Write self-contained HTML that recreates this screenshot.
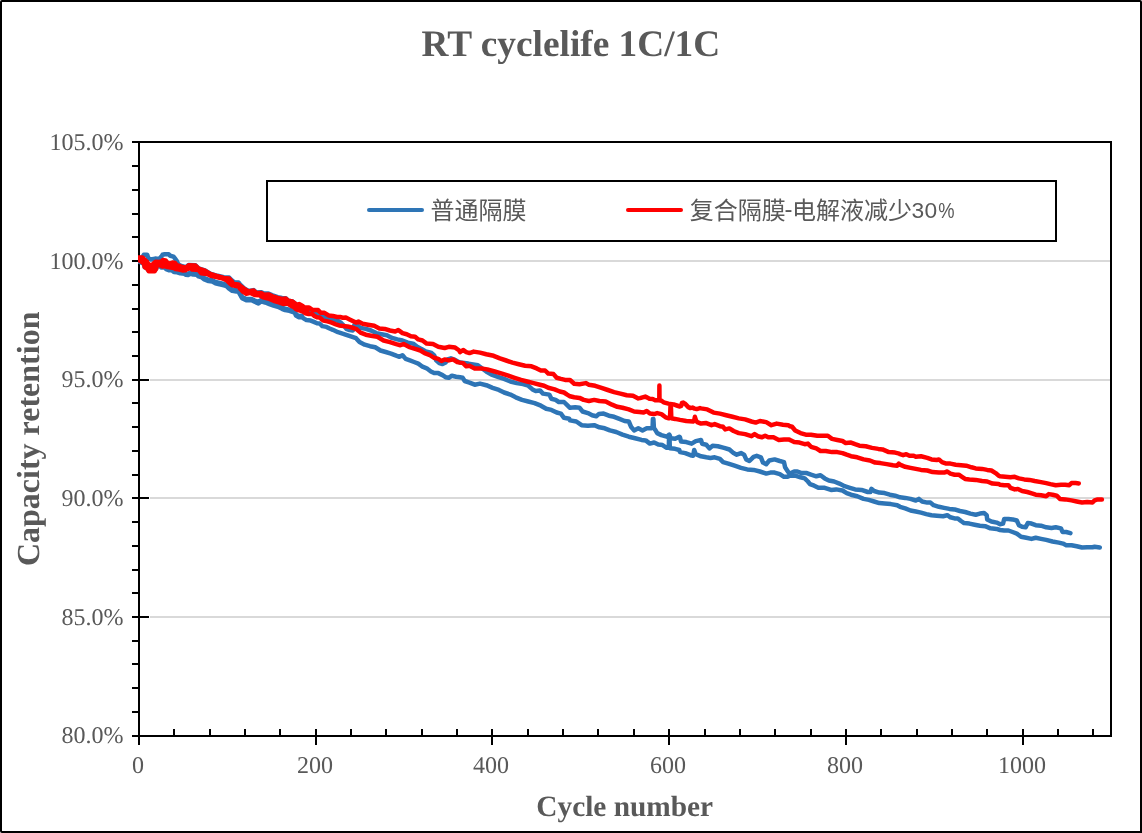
<!DOCTYPE html>
<html lang="zh"><head><meta charset="utf-8"><title>RT cyclelife 1C/1C</title>
<style>
html,body{margin:0;padding:0;background:#fff;}
body{width:1142px;height:833px;overflow:hidden;position:relative;}
#chart{position:absolute;left:0;top:0;width:1142px;height:833px;box-sizing:border-box;border:2px solid #000;border-radius:2px 2px 0 2px;background:#fff;}
svg{position:absolute;left:0;top:0;display:block;}
.serif{font-family:"Liberation Serif","Noto Serif CJK SC",serif;fill:#595959;text-rendering:geometricPrecision;}
.sans{font-family:"Liberation Sans","Noto Sans CJK SC",sans-serif;fill:#595959;}
.tick{font-size:24px;text-rendering:geometricPrecision;}
.b{font-weight:bold;}
</style></head><body>
<div id="chart"></div>
<svg width="1142" height="833" viewBox="0 0 1142 833">

<g fill="#d9d9d9">
<rect x="150" y="616" width="960" height="2"/>
<rect x="150" y="497" width="960" height="2"/>
<rect x="150" y="379" width="960" height="2"/>
<rect x="150" y="260" width="960" height="2"/>
</g>
<g fill="#000">
<rect x="132" y="141" width="980" height="2"/>
<rect x="138" y="141" width="2" height="604"/>
<rect x="1110" y="141" width="2" height="596"/>
<rect x="132" y="735" width="980" height="2"/>
<rect x="132" y="711" width="6" height="2"/>
<rect x="132" y="687" width="6" height="2"/>
<rect x="132" y="663" width="6" height="2"/>
<rect x="132" y="640" width="6" height="2"/>
<rect x="132" y="616" width="17" height="2"/>
<rect x="132" y="592" width="6" height="2"/>
<rect x="132" y="569" width="6" height="2"/>
<rect x="132" y="545" width="6" height="2"/>
<rect x="132" y="521" width="6" height="2"/>
<rect x="132" y="497" width="17" height="2"/>
<rect x="132" y="474" width="6" height="2"/>
<rect x="132" y="450" width="6" height="2"/>
<rect x="132" y="426" width="6" height="2"/>
<rect x="132" y="402" width="6" height="2"/>
<rect x="132" y="379" width="17" height="2"/>
<rect x="132" y="355" width="6" height="2"/>
<rect x="132" y="331" width="6" height="2"/>
<rect x="132" y="308" width="6" height="2"/>
<rect x="132" y="284" width="6" height="2"/>
<rect x="132" y="260" width="17" height="2"/>
<rect x="132" y="236" width="6" height="2"/>
<rect x="132" y="213" width="6" height="2"/>
<rect x="132" y="189" width="6" height="2"/>
<rect x="132" y="165" width="6" height="2"/>
<rect x="173" y="729" width="2" height="6"/>
<rect x="209" y="729" width="2" height="6"/>
<rect x="244" y="729" width="2" height="6"/>
<rect x="279" y="729" width="2" height="6"/>
<rect x="315" y="729" width="2" height="16"/>
<rect x="350" y="729" width="2" height="6"/>
<rect x="385" y="729" width="2" height="6"/>
<rect x="421" y="729" width="2" height="6"/>
<rect x="456" y="729" width="2" height="6"/>
<rect x="491" y="729" width="2" height="16"/>
<rect x="527" y="729" width="2" height="6"/>
<rect x="562" y="729" width="2" height="6"/>
<rect x="597" y="729" width="2" height="6"/>
<rect x="633" y="729" width="2" height="6"/>
<rect x="668" y="729" width="2" height="16"/>
<rect x="704" y="729" width="2" height="6"/>
<rect x="739" y="729" width="2" height="6"/>
<rect x="774" y="729" width="2" height="6"/>
<rect x="810" y="729" width="2" height="6"/>
<rect x="845" y="729" width="2" height="16"/>
<rect x="880" y="729" width="2" height="6"/>
<rect x="916" y="729" width="2" height="6"/>
<rect x="951" y="729" width="2" height="6"/>
<rect x="986" y="729" width="2" height="6"/>
<rect x="1022" y="729" width="2" height="16"/>
<rect x="1057" y="729" width="2" height="6"/>
<rect x="1092" y="729" width="2" height="6"/>
</g>
<defs><clipPath id="pa"><rect x="138" y="141" width="974" height="596"/></clipPath></defs>
<g fill="none" stroke-width="4.5" stroke-linejoin="round" stroke-linecap="round" clip-path="url(#pa)">
<path stroke="#2e75b6" d="M138.0,259.2 L142.5,257.1 L143.8,254.8 L147.2,254.8 L148.3,258.2 L150.9,259.5 L155.1,258.6 L159.3,259.0 L161.4,256.6 L162.5,254.8 L164.6,254.3 L168.8,254.3 L170.3,255.8 L173.5,256.6 L175.1,258.7 L176.7,260.8 L177.7,263.4 L179.3,265.0 L182.4,266.3 L185.1,266.9 L186.0,267.3 L188.6,265.0 L195.5,265.3 L198.6,268.4 L204.9,270.3 L210.2,273.7 L217.5,275.8 L223.8,277.3 L227.0,277.4 L229.1,277.5 L231.7,280.2 L234.3,282.3 L238.5,282.5 L240.0,284.4 L244.2,288.3 L248.4,290.9 L253.7,290.1 L256.3,292.5 L261.0,292.2 L264.2,293.5 L268.4,293.5 L272.6,295.4 L277.8,297.1 L282.0,298.0 L285.7,298.3 L288.3,300.6 L292.5,301.5 L295.7,304.1 L296.0,307.2 L302.3,308.8 L308.6,310.9 L317.0,313.8 L324.4,316.6 L328.6,318.8 L332.8,319.9 L338.0,320.9 L341.2,323.0 L344.3,326.1 L346.4,328.8 L349.6,330.1 L352.7,330.6 L353.8,328.8 L354.3,325.1 L356.0,324.3 L360.5,327.9 L365.8,328.9 L371.0,330.5 L376.3,333.1 L381.5,334.2 L386.8,335.2 L392.0,337.9 L397.3,339.4 L402.5,340.5 L407.8,342.6 L413.1,343.6 L417.2,346.8 L421.4,348.9 L425.7,351.5 L430.9,352.6 L434.1,355.2 L436.2,360.4 L439.3,363.1 L442.5,364.1 L445.6,362.5 L447.7,359.4 L450.9,358.3 L455.1,359.9 L460.0,362.6 L464.2,363.1 L468.4,363.6 L477.9,365.2 L486.3,371.5 L491.5,374.7 L497.8,376.8 L504.1,378.9 L510.4,381.5 L516.7,383.1 L523.0,384.1 L528.3,385.7 L532.5,389.4 L535.7,391.0 L539.9,390.4 L543.0,393.6 L549.3,394.6 L551.4,398.8 L555.6,399.9 L558.8,402.0 L564.0,402.0 L567.2,405.1 L570.0,407.8 L575.2,407.3 L579.5,407.8 L582.6,411.5 L587.9,413.1 L592.1,415.2 L596.3,416.2 L598.9,414.1 L603.6,413.6 L608.9,415.7 L614.1,416.8 L619.4,418.9 L624.6,421.0 L628.8,421.5 L631.0,426.7 L634.1,430.4 L638.3,428.3 L642.5,430.4 L646.7,428.3 L650.9,428.3 L652.6,427.8 L652.9,418.9 L653.4,418.9 L653.9,427.8 L655.3,429.9 L657.2,433.1 L661.4,435.1 L666.7,436.7 L669.3,434.6 L670.9,438.3 L675.1,438.8 L679.3,436.7 L680.0,437.4 L681.0,441.6 L686.3,442.1 L691.6,443.7 L695.8,441.1 L701.0,440.0 L702.1,443.7 L706.3,444.7 L709.4,448.4 L712.6,445.8 L717.8,446.3 L724.1,447.9 L729.4,449.5 L733.6,453.1 L736.7,454.7 L741.0,453.1 L744.1,454.7 L746.2,459.4 L749.4,461.0 L753.6,456.8 L756.7,455.8 L760.9,457.3 L763.0,462.6 L766.2,464.2 L769.3,460.5 L774.6,459.4 L779.8,461.0 L784.0,462.1 L785.1,467.3 L787.2,470.5 L789.3,473.6 L790.0,473.6 L794.2,471.5 L797.4,471.5 L801.6,473.1 L806.8,473.1 L811.0,474.7 L816.3,476.3 L820.5,475.2 L824.7,478.4 L828.9,480.5 L834.1,481.5 L839.4,483.6 L844.6,486.2 L849.9,487.8 L855.1,489.4 L861.5,489.9 L867.8,492.0 L870.4,492.0 L871.4,488.9 L874.1,491.0 L879.3,492.6 L884.6,493.1 L889.8,494.7 L895.1,495.7 L900.0,497.3 L905.2,497.9 L910.5,498.9 L915.8,500.5 L918.9,498.9 L922.1,501.5 L927.3,502.6 L930.5,502.6 L933.6,505.2 L938.9,506.8 L944.1,507.9 L949.4,508.9 L954.6,509.4 L959.9,511.0 L965.1,512.0 L970.4,513.6 L975.7,514.7 L979.9,513.6 L984.1,513.1 L986.7,515.2 L987.2,519.4 L991.4,521.5 L996.7,522.6 L1000.0,524.2 L1003.1,523.6 L1004.2,518.9 L1008.4,518.9 L1012.6,519.4 L1016.8,520.5 L1018.9,525.2 L1022.1,526.8 L1025.7,527.3 L1027.8,523.1 L1031.5,523.6 L1035.7,525.2 L1041.0,525.7 L1046.2,527.3 L1051.5,527.9 L1055.7,527.3 L1061.0,528.4 L1062.5,532.0 L1066.2,532.0 L1070.4,533.1"/>
<path stroke="#2e75b6" d="M138.0,261.3 L140.9,262.4 L144.1,263.9 L144.6,267.0 L147.2,268.6 L148.8,270.8 L154.6,270.8 L156.2,268.6 L157.2,265.0 L158.3,264.9 L161.4,267.5 L164.6,267.5 L166.2,269.1 L168.8,270.2 L171.9,270.2 L174.0,272.0 L177.2,272.3 L180.3,273.3 L184.5,273.8 L186.0,274.8 L188.1,275.1 L190.7,273.8 L193.4,274.6 L196.5,274.8 L198.6,276.4 L201.8,277.4 L204.4,279.5 L208.6,281.1 L212.3,281.6 L215.4,283.2 L219.6,284.3 L223.8,285.3 L226.5,286.1 L229.1,288.7 L232.2,290.8 L236.4,291.4 L238.5,291.9 L240.0,294.5 L242.1,298.2 L246.3,300.3 L251.6,300.3 L254.7,301.8 L258.4,303.4 L261.0,301.4 L265.2,302.5 L269.4,304.1 L273.6,305.6 L277.8,306.8 L282.0,308.8 L285.2,310.1 L289.4,310.9 L294.6,312.5 L296.0,315.6 L298.6,317.2 L301.8,317.1 L304.4,318.8 L306.5,320.1 L310.7,320.6 L313.9,321.9 L317.0,323.3 L319.6,323.5 L322.3,326.1 L326.5,326.9 L329.6,328.5 L332.8,329.8 L338.0,332.2 L343.3,333.8 L356.0,338.2 L359.5,342.1 L364.7,344.7 L370.0,346.2 L375.2,347.3 L380.5,350.5 L385.7,352.0 L391.0,353.6 L396.2,355.7 L399.4,356.8 L402.5,355.2 L405.7,358.9 L409.9,360.4 L414.1,362.0 L418.3,363.6 L422.5,366.7 L426.7,368.3 L430.9,371.5 L434.1,373.1 L438.3,373.1 L442.5,375.1 L445.6,377.2 L448.8,377.8 L451.9,375.7 L456.1,376.7 L460.0,377.3 L462.6,377.8 L464.7,381.0 L469.5,382.6 L474.7,384.7 L480.0,383.6 L486.3,385.2 L492.6,387.8 L498.9,389.9 L504.1,392.5 L510.4,394.6 L515.7,397.3 L522.0,399.9 L528.3,401.5 L534.6,403.1 L540.9,405.7 L546.2,408.8 L551.4,409.9 L556.7,412.5 L560.9,413.6 L564.0,417.8 L569.3,418.8 L570.0,420.4 L576.3,421.5 L581.6,425.2 L587.9,425.7 L594.2,425.2 L599.4,427.3 L604.7,428.3 L609.9,430.4 L616.2,432.0 L622.5,434.6 L628.8,436.7 L635.1,438.3 L641.5,439.9 L645.7,440.4 L649.9,443.6 L654.1,442.5 L658.3,444.6 L662.5,445.1 L666.7,447.8 L668.8,447.8 L669.1,435.7 L669.5,435.7 L669.8,448.3 L675.1,448.8 L679.3,450.0 L680.0,452.1 L685.2,453.1 L690.5,455.2 L693.1,455.8 L694.2,450.0 L695.8,454.2 L701.0,456.3 L706.3,457.3 L710.5,457.9 L714.7,457.3 L719.9,458.9 L723.1,462.1 L728.3,463.6 L734.6,465.7 L741.0,467.9 L747.2,469.4 L753.6,469.9 L759.9,471.5 L766.2,473.6 L770.4,472.6 L774.6,472.6 L779.8,474.1 L784.0,476.8 L787.2,476.8 L790.0,475.7 L795.2,475.7 L800.5,477.3 L804.7,478.4 L807.9,481.5 L810.0,484.1 L814.2,485.7 L818.4,487.8 L824.7,487.8 L831.0,489.9 L836.2,489.4 L842.5,490.5 L846.7,493.1 L851.0,494.7 L857.2,496.2 L863.6,498.9 L868.8,499.9 L874.1,501.5 L879.3,503.1 L884.6,503.6 L890.9,504.1 L897.2,505.2 L900.0,506.8 L905.2,508.4 L910.5,510.5 L915.8,511.5 L921.0,512.6 L926.3,514.1 L931.5,515.2 L936.8,515.7 L943.1,516.2 L947.3,515.2 L950.4,517.3 L954.6,518.4 L957.8,518.4 L961.0,521.0 L964.1,523.1 L969.4,523.6 L974.6,524.7 L979.9,525.7 L985.1,526.2 L990.4,528.3 L996.7,528.9 L1000.0,530.0 L1004.2,530.5 L1008.4,530.5 L1012.6,532.0 L1016.8,533.6 L1021.0,536.8 L1026.3,537.8 L1031.5,538.9 L1035.7,537.8 L1041.0,538.9 L1046.2,539.9 L1052.5,541.5 L1058.8,542.6 L1063.0,543.6 L1066.2,545.2 L1071.5,545.2 L1076.7,546.2 L1082.0,547.5 L1087.2,547.3 L1092.5,547.3 L1094.6,546.8 L1099.8,547.5"/>
<path stroke="#2e75b6" d="M154.6,269.5 L156.2,267.3 L157.2,263.7 L158.3,263.6 L161.4,266.2 L164.6,266.2 L166.2,267.8 L168.8,268.9 L171.9,268.9 L174.0,270.7 L177.2,271.0 L180.3,272.0 L184.5,272.5 L186.0,273.5 L188.1,273.8 L190.7,272.5 L193.4,273.2 L196.5,273.5 L198.6,275.1 L201.8,276.1 L204.4,278.2 L208.6,279.8 L212.3,280.3 L215.4,281.9 L219.6,283.0 L223.8,284.0 L226.5,284.8 L229.1,287.4 L232.2,289.5 L236.4,290.1 L238.5,290.6 L240.0,293.2 L242.1,296.9 L246.3,299.0 L251.6,299.0 L254.7,300.5 L258.4,302.1 L261.0,300.1 L265.2,301.2 L269.4,302.8 L273.6,304.3 L277.8,305.5 L282.0,307.5 L285.2,308.8 L289.4,309.6 L294.6,311.2 L296.0,314.3 L298.6,315.9 L301.8,315.8"/>
<path stroke="#ff0000" d="M138.0,257.5 L142.5,257.5 L144.1,259.3 L147.2,262.0 L148.3,264.1 L151.4,265.6 L153.5,263.5 L155.6,261.7 L159.3,262.0 L161.4,261.4 L163.0,260.1 L165.6,260.4 L167.2,262.5 L169.8,263.5 L172.5,262.5 L175.1,263.0 L176.7,265.1 L179.3,265.9 L182.4,267.0 L185.1,267.5 L186.0,267.7 L188.6,265.3 L195.5,265.6 L198.6,268.7 L204.9,270.6 L210.2,274.0 L217.5,276.1 L223.8,277.9 L229.1,278.4 L231.7,281.3 L233.3,283.9 L238.5,284.5 L240.0,285.8 L244.2,288.9 L248.4,291.5 L253.7,290.5 L256.3,293.1 L261.0,292.9 L264.2,294.7 L268.4,294.4 L272.6,296.3 L277.8,297.9 L282.0,298.9 L285.7,298.6 L288.3,300.7 L292.5,301.5 L295.7,304.1 L296.0,304.9 L299.1,304.1 L302.3,305.7 L304.4,307.5 L309.1,307.5 L312.3,309.9 L318.1,310.1 L320.7,312.8 L324.4,312.8 L328.6,315.4 L332.8,315.9 L337.0,317.0 L340.1,317.0 L342.8,317.7 L345.9,317.6 L349.6,319.4 L356.0,322.6 L358.4,321.6 L362.6,323.7 L367.9,324.7 L374.2,325.8 L379.4,328.4 L384.7,328.9 L389.9,330.5 L395.2,331.5 L398.3,330.0 L402.5,333.1 L406.7,334.2 L410.9,336.3 L415.1,336.8 L418.3,339.4 L422.5,340.5 L426.7,343.6 L433.0,344.1 L438.3,346.8 L444.6,348.0 L448.8,346.8 L455.1,347.6 L459.3,350.5 L460.0,352.1 L463.1,350.0 L466.3,352.1 L469.5,353.1 L473.7,351.6 L480.0,352.6 L486.3,354.2 L493.6,355.8 L499.9,358.4 L506.2,360.5 L512.5,362.6 L518.8,364.2 L525.1,365.7 L531.5,366.3 L536.7,368.4 L540.9,370.5 L545.1,370.5 L548.3,373.6 L553.5,374.1 L556.7,377.8 L560.9,378.9 L565.1,379.9 L570.0,380.0 L574.2,383.7 L579.5,384.2 L585.8,383.1 L588.9,384.7 L595.2,385.8 L601.5,387.9 L607.8,390.0 L614.1,392.1 L620.4,393.6 L626.7,395.2 L633.0,395.7 L638.3,398.4 L640.0,398.1 L642.6,397.3 L645.2,396.6 L647.4,397.6 L649.5,398.8 L652.6,398.9 L655.2,400.2 L657.1,400.3 L659.3,400.2 L659.4,385.4 L659.5,400.2 L661.5,400.7 L663.6,402.3 L668.4,403.6 L673.6,404.4 L676.8,405.5 L679.9,406.5 L681.2,406.0 L682.0,402.9 L683.1,402.6 L684.7,403.4 L686.2,404.9 L688.3,407.1 L690.4,408.1 L692.5,407.6 L694.6,408.6 L696.7,409.1 L700.0,408.1 L701.0,408.4 L707.3,409.4 L713.6,412.6 L719.9,413.6 L726.2,415.2 L732.5,416.8 L738.8,418.4 L745.1,419.4 L751.5,421.5 L755.7,422.6 L759.9,421.0 L766.2,422.1 L771.4,425.2 L776.7,423.6 L783.0,424.7 L788.2,425.2 L790.0,426.3 L792.1,426.8 L795.2,430.5 L800.5,433.1 L805.8,434.7 L811.0,434.7 L817.3,435.8 L822.6,435.8 L827.8,435.8 L832.0,438.9 L837.3,440.0 L842.5,441.0 L845.7,443.1 L851.0,442.6 L855.1,444.2 L859.4,445.7 L865.7,446.3 L872.0,447.9 L878.3,448.9 L882.5,449.4 L888.8,452.1 L895.1,452.6 L899.3,453.6 L900.0,454.2 L903.1,455.2 L906.3,454.2 L909.5,455.8 L913.7,455.8 L915.8,456.8 L921.0,456.3 L927.3,457.9 L931.5,459.4 L936.8,460.0 L938.9,459.4 L942.0,462.1 L946.2,463.6 L950.4,463.6 L955.7,464.7 L961.0,465.2 L966.2,465.7 L971.5,467.3 L975.7,468.4 L982.0,468.9 L987.2,469.9 L991.4,470.5 L995.6,473.1 L998.8,475.7 L1000.0,476.3 L1005.2,476.8 L1010.5,477.3 L1014.7,476.8 L1018.9,478.4 L1024.2,479.4 L1029.4,479.9 L1034.7,481.0 L1041.0,482.1 L1046.2,483.1 L1050.4,484.1 L1055.7,485.2 L1061.0,484.7 L1065.2,484.7 L1069.3,485.2 L1071.5,483.1 L1075.7,483.1 L1078.8,483.4"/>
<path stroke="#ff0000" d="M138.0,259.7 L140.9,261.2 L144.1,263.9 L144.6,267.0 L147.2,268.6 L148.8,271.2 L154.6,271.2 L156.2,268.6 L157.2,263.9 L158.8,262.8 L160.4,265.4 L162.5,266.5 L164.6,266.0 L167.7,267.0 L170.9,267.5 L174.0,268.1 L175.6,269.1 L179.3,269.6 L182.4,270.4 L185.6,270.2 L186.0,269.6 L190.2,268.0 L192.3,269.6 L198.6,270.1 L201.2,273.2 L207.0,274.0 L211.2,275.9 L217.5,277.4 L222.8,278.5 L227.0,280.6 L229.6,283.2 L232.2,285.3 L236.4,286.1 L239.6,286.9 L240.0,288.7 L243.2,291.9 L246.3,293.7 L250.5,292.9 L254.7,295.0 L259.4,295.3 L263.1,297.4 L269.4,298.9 L273.6,300.8 L278.9,302.4 L283.1,303.9 L287.3,303.4 L290.4,305.5 L294.6,307.6 L296.0,309.1 L299.1,310.4 L302.3,311.2 L305.5,313.3 L308.6,314.1 L311.8,313.8 L314.4,315.9 L317.0,317.2 L319.6,317.5 L323.3,320.6 L327.5,321.4 L331.7,322.7 L335.9,324.3 L339.1,325.4 L343.3,325.9 L347.5,326.4 L351.7,327.5 L356.0,328.8 L360.5,332.6 L365.8,334.7 L371.0,335.7 L377.3,336.8 L383.6,340.5 L389.9,342.1 L396.2,344.1 L400.4,345.2 L403.6,344.1 L408.8,346.8 L415.1,348.9 L420.4,350.5 L424.6,353.1 L429.9,355.2 L434.1,357.8 L438.3,358.9 L441.4,361.0 L444.6,359.4 L448.8,360.4 L453.0,359.4 L457.2,362.0 L460.0,362.6 L463.1,363.1 L466.3,366.3 L469.5,365.7 L474.7,368.4 L481.0,368.4 L487.3,369.4 L494.7,371.5 L502.0,373.6 L508.3,375.7 L514.6,377.8 L521.0,379.9 L527.2,381.5 L533.6,383.1 L539.9,384.7 L544.1,385.7 L548.3,387.8 L554.6,389.4 L559.8,391.5 L564.0,392.5 L567.2,394.6 L570.0,396.3 L574.2,397.3 L579.5,397.9 L583.7,399.9 L588.9,401.0 L594.2,399.9 L599.4,401.0 L605.7,401.5 L612.0,404.7 L617.3,406.8 L622.5,407.8 L628.8,409.4 L634.1,411.5 L639.4,412.0 L643.6,412.6 L646.7,411.0 L649.9,413.6 L654.1,414.1 L657.2,413.1 L661.4,414.1 L665.6,417.3 L668.8,418.3 L670.0,417.8 L670.5,406.2 L670.9,406.2 L671.3,417.8 L672.5,418.6 L675.1,418.9 L680.0,419.9 L686.3,421.0 L693.1,421.5 L694.2,420.5 L694.9,416.8 L696.0,420.5 L697.3,422.1 L701.0,423.6 L706.3,423.1 L711.5,425.2 L714.7,424.1 L719.9,426.2 L723.1,426.8 L725.2,429.4 L729.4,428.4 L733.6,431.0 L738.8,433.1 L745.1,434.1 L751.5,436.2 L754.6,434.1 L757.8,436.2 L762.0,437.3 L765.1,435.7 L768.3,437.3 L773.5,437.3 L778.8,439.9 L784.0,439.4 L789.3,439.4 L790.0,440.0 L794.2,442.1 L799.5,442.6 L804.7,444.2 L807.9,443.6 L811.0,446.8 L816.3,448.4 L820.5,451.0 L825.7,451.0 L832.0,452.1 L837.3,452.1 L842.5,453.1 L846.7,454.7 L851.0,456.2 L857.2,457.3 L863.6,459.4 L869.9,460.5 L875.1,462.6 L880.4,463.1 L886.7,464.1 L893.0,465.2 L897.2,465.7 L898.8,463.6 L900.0,464.7 L905.2,466.8 L910.5,467.9 L915.8,468.9 L921.0,469.9 L927.3,470.5 L932.6,472.1 L938.9,472.6 L944.1,472.6 L947.3,471.5 L950.4,473.6 L954.6,474.7 L958.8,474.7 L962.0,476.8 L965.1,478.9 L969.4,479.4 L975.7,479.9 L982.0,481.0 L987.2,481.5 L992.5,483.6 L998.8,484.1 L1000.0,484.7 L1004.2,485.2 L1008.4,485.2 L1010.5,487.8 L1014.7,489.4 L1017.9,488.9 L1022.1,491.0 L1027.3,492.0 L1032.6,493.6 L1035.7,494.7 L1041.0,495.2 L1046.2,496.2 L1048.9,494.1 L1052.5,494.7 L1056.7,495.7 L1059.9,498.9 L1065.2,499.4 L1071.5,500.4 L1076.7,501.5 L1082.0,502.5 L1087.2,502.0 L1092.5,502.5 L1094.6,500.4 L1097.7,499.4 L1101.9,499.6"/>
<path stroke="#ff0000" d="M138.0,258.6 L139.5,259.0 L141.0,259.4 L142.5,260.0 L144.0,261.5 L145.5,264.0 L147.0,265.1 L148.5,267.4 L150.0,268.1 L151.5,268.4 L153.0,267.7 L154.5,267.0 L156.0,265.3 L157.5,262.8 L159.0,262.5 L160.5,263.6 L162.0,263.6 L163.5,263.2 L165.0,263.2 L166.5,264.1 L168.0,264.9 L169.5,265.4 L171.0,265.3 L172.5,265.2 L174.0,265.4 L175.5,266.3 L177.0,267.3 L178.5,267.6 L180.0,268.0 L181.5,268.4 L183.0,268.7 L184.5,268.8 L186.0,268.6 L187.5,267.7 L189.0,266.9 L190.5,266.8 L192.0,267.4 L193.5,267.6 L195.0,267.7 L196.5,268.3 L198.0,269.1 L199.5,270.1 L201.0,271.2 L202.5,271.6 L204.0,271.9 L205.5,272.4 L207.0,273.0 L208.5,273.8 L210.0,274.6 L211.5,275.1 L213.0,275.5 L214.5,275.9 L216.0,276.3 L217.5,276.7 L219.0,277.1 L220.5,277.5 L222.0,277.9 L223.5,278.3 L225.0,278.8 L226.5,279.3 L228.0,280.0 L229.5,281.0 L231.0,282.4 L232.5,284.0 L234.0,284.8 L235.5,285.1 L237.0,285.3 L238.5,285.5 L240.0,287.2 L241.5,288.6 L243.0,289.9 L244.5,290.9 L246.0,291.8 L247.5,292.2 L249.0,292.3 L250.5,292.0 L252.0,292.2 L253.5,292.5 L255.0,293.4 L256.5,294.1 L258.0,294.1 L259.5,294.1 L261.0,294.5 L262.5,295.4 L264.0,296.1 L265.5,296.3 L267.0,296.4 L268.5,296.6 L270.0,297.2 L271.5,297.8 L273.0,298.5 L274.5,299.0 L276.0,299.4 L277.5,299.9 L279.0,300.3 L280.5,300.7 L282.0,301.2 L283.5,301.3 L285.0,301.2 L286.5,301.4 L288.0,302.2 L289.5,302.9 L291.0,303.5 L292.5,304.0 L294.0,305.0 L295.5,306.3 L297.0,307.1 L298.5,307.2 L300.0,307.6 L301.5,308.1 L303.0,309.0 L304.5,310.1 L306.0,310.5 L307.5,310.6"/>
</g>
<g class="serif tick" text-anchor="end">
<text transform="translate(123.4,743) scale(1,1)">80.0%</text>
<text transform="translate(123.4,625) scale(1,1)">85.0%</text>
<text transform="translate(123.4,506) scale(1,1)">90.0%</text>
<text transform="translate(123.4,387) scale(1,1)">95.0%</text>
<text transform="translate(123.4,269) scale(1,1)">100.0%</text>
<text transform="translate(123.4,150) scale(1,1)">105.0%</text>
</g>
<g class="serif tick" text-anchor="middle">
<text transform="translate(138,773) scale(1,1)">0</text>
<text transform="translate(315,773) scale(1,1)">200</text>
<text transform="translate(491,773) scale(1,1)">400</text>
<text transform="translate(668,773) scale(1,1)">600</text>
<text transform="translate(845,773) scale(1,1)">800</text>
<text transform="translate(1022,773) scale(1,1)">1000</text>
</g>
<text class="serif b" x="570.9" y="55.5" font-size="37.33" text-anchor="middle">RT cyclelife 1C/1C</text>
<text class="serif b" x="624.7" y="816" font-size="29.33" text-anchor="middle">Cycle number</text>
<text class="serif b" transform="translate(39.3,438.8) rotate(-90)" font-size="32" text-anchor="middle">Capacity retention</text>
<rect x="267" y="181" width="789" height="60" fill="#fff" stroke="#000" stroke-width="2" shape-rendering="crispEdges"/>
<line x1="369" y1="210" x2="422" y2="210" stroke="#2e75b6" stroke-width="4" stroke-linecap="round"/>
<line x1="628" y1="210" x2="681" y2="210" stroke="#ff0000" stroke-width="4" stroke-linecap="round"/>
<text class="sans" x="430.5" y="219" font-size="24">普通隔膜</text>
<text class="sans" x="689.8" y="219" font-size="24">复合隔膜<tspan dx="-1.2" dy="-1.7">-</tspan><tspan dx="-0.6" dy="1.7">电解液减少</tspan><tspan dx="-0.4" dy="-1" font-size="22.8" letter-spacing="0.3">30</tspan><tspan dx="0.6" font-size="22.8" textLength="16.3" lengthAdjust="spacingAndGlyphs">%</tspan></text>
</svg>
</body></html>
